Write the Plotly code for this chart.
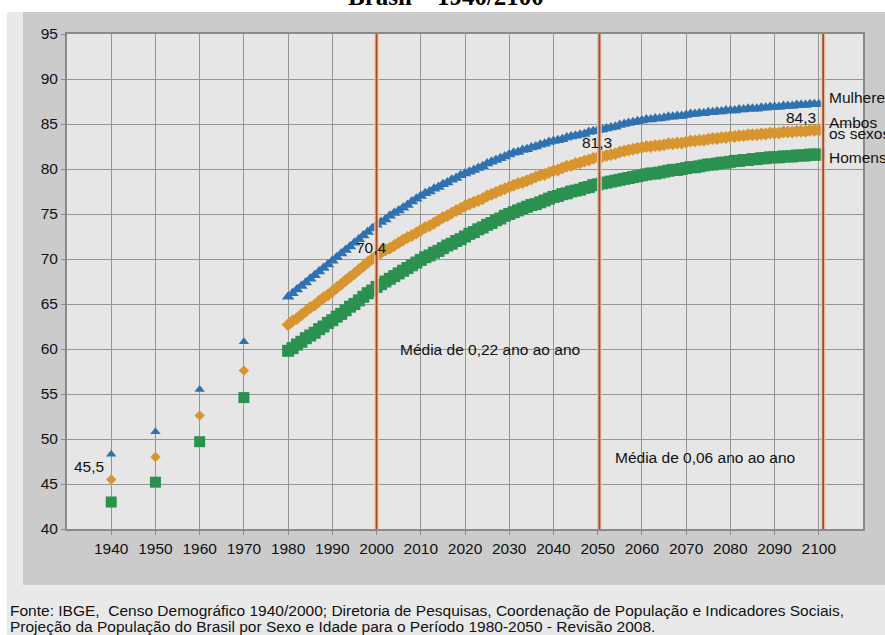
import plotly.graph_objects as go

# ---------------- data ----------------
years_census = [1940, 1950, 1960, 1970]
women_census = [48.3, 50.8, 55.5, 60.8]
both_census = [45.5, 48.0, 52.6, 57.6]
men_census = [43.0, 45.2, 49.7, 54.6]

years_proj = list(range(1980, 2101))
women_proj = [
    65.8, 66.2, 66.6, 67.0, 67.4, 67.8, 68.2, 68.6, 69.0, 69.4,
    69.8, 70.2, 70.6, 71.0, 71.4, 71.8, 72.2, 72.6, 73.0, 73.4,
    73.8, 74.1, 74.4, 74.8, 75.1, 75.4, 75.7, 76.0, 76.4, 76.7,
    77.0, 77.3, 77.5, 77.8, 78.0, 78.3, 78.5, 78.8, 79.0, 79.3,
    79.5, 79.7, 79.9, 80.1, 80.3, 80.6, 80.8, 81.0, 81.2, 81.4,
    81.6, 81.8, 81.9, 82.1, 82.2, 82.4, 82.5, 82.7, 82.8, 83.0,
    83.1, 83.2, 83.3, 83.5, 83.6, 83.7, 83.8, 83.9, 84.1, 84.2,
    84.3, 84.4, 84.5, 84.6, 84.7, 84.9, 85.0, 85.1, 85.2, 85.3,
    85.4, 85.5, 85.5, 85.6, 85.6, 85.7, 85.8, 85.8, 85.9, 85.9,
    86.0, 86.1, 86.1, 86.2, 86.2, 86.3, 86.3, 86.4, 86.4, 86.5,
    86.5, 86.5, 86.6, 86.6, 86.7, 86.7, 86.7, 86.8, 86.8, 86.9,
    86.9, 86.9, 87.0, 87.0, 87.0, 87.1, 87.1, 87.1, 87.2, 87.2,
    87.2,
]
both_proj = [
    62.7, 63.1, 63.4, 63.8, 64.2, 64.6, 64.9, 65.3, 65.7, 66.0,
    66.4, 66.8, 67.2, 67.6, 68.0, 68.4, 68.8, 69.2, 69.6, 70.0,
    70.4, 70.7, 71.0, 71.2, 71.5, 71.8, 72.1, 72.4, 72.6, 72.9,
    73.2, 73.5, 73.7, 74.0, 74.3, 74.6, 74.8, 75.1, 75.4, 75.6,
    75.9, 76.1, 76.3, 76.5, 76.7, 77.0, 77.2, 77.4, 77.6, 77.8,
    78.0, 78.2, 78.4, 78.5, 78.7, 78.9, 79.1, 79.3, 79.4, 79.6,
    79.8, 79.9, 80.1, 80.3, 80.4, 80.6, 80.7, 80.9, 81.0, 81.2,
    81.3, 81.4, 81.5, 81.6, 81.7, 81.9, 82.0, 82.1, 82.2, 82.3,
    82.4, 82.5, 82.5, 82.6, 82.6, 82.7, 82.8, 82.8, 82.9, 82.9,
    83.0, 83.1, 83.1, 83.2, 83.2, 83.3, 83.4, 83.4, 83.5, 83.5,
    83.6, 83.6, 83.7, 83.7, 83.8, 83.8, 83.8, 83.9, 83.9, 84.0,
    84.0, 84.0, 84.1, 84.1, 84.1, 84.2, 84.2, 84.2, 84.3, 84.3,
    84.3,
]
men_proj = [
    59.8, 60.1, 60.5, 60.8, 61.2, 61.5, 61.8, 62.2, 62.5, 62.9,
    63.2, 63.6, 63.9, 64.3, 64.7, 65.0, 65.4, 65.8, 66.2, 66.5,
    66.9, 67.2, 67.5, 67.8, 68.1, 68.4, 68.7, 69.0, 69.3, 69.6,
    69.9, 70.2, 70.4, 70.7, 70.9, 71.2, 71.5, 71.7, 72.0, 72.2,
    72.5, 72.8, 73.0, 73.3, 73.5, 73.8, 74.0, 74.3, 74.5, 74.8,
    75.0, 75.2, 75.4, 75.6, 75.8, 76.0, 76.1, 76.3, 76.5, 76.7,
    76.9, 77.0, 77.2, 77.3, 77.5, 77.6, 77.7, 77.9, 78.0, 78.2,
    78.3, 78.4, 78.5, 78.6, 78.7, 78.8, 78.9, 79.0, 79.1, 79.2,
    79.3, 79.4, 79.5, 79.5, 79.6, 79.7, 79.8, 79.9, 79.9, 80.0,
    80.1, 80.2, 80.2, 80.3, 80.4, 80.5, 80.5, 80.6, 80.7, 80.7,
    80.8, 80.9, 80.9, 81.0, 81.0, 81.1, 81.1, 81.2, 81.2, 81.3,
    81.3, 81.3, 81.4, 81.4, 81.4, 81.5, 81.5, 81.5, 81.6, 81.6,
    81.6,
]

x_ticks = [1940, 1950, 1960, 1970, 1980, 1990, 2000, 2010, 2020, 2030,
           2040, 2050, 2060, 2070, 2080, 2090, 2100]
y_ticks = [40, 45, 50, 55, 60, 65, 70, 75, 80, 85, 90, 95]
period_lines = [2000, 2050.4, 2101]

value_labels = [(1935.0, 47.0, "45,5"), (1998.9, 71.3, "70,4"),
                (2049.8, 82.9, "81,3"), (2096.0, 85.7, "84,3")]
series_labels = [(88.0, "Mulheres"), (85.2, "Ambos"), (83.9, "os sexos"), (81.3, "Homens")]
period_notes = [(2004.8, 60.0, "Média de 0,22 ano ao ano"),
                (2053.4, 48.0, "Média de 0,06 ano ao ano")]
source_lines = [
    "Fonte: IBGE,  Censo Demográfico 1940/2000; Diretoria de Pesquisas, Coordenação de População e Indicadores Sociais,",
    "Projeção da População do Brasil por Sexo e Idade para o Período 1980-2050 - Revisão 2008.",
]
title_text = "Brasil – 1940/2100"

# ---------------- figure ----------------
BLUE = "#2f72b0"
ORANGE = "#d8952f"
GREEN = "#2b9150"
FONT = "Liberation Sans, Arial, sans-serif"
FS = 15.5

fig = go.Figure()

def add_series(xs, ys, color, symbol, size):
    fig.add_trace(go.Scatter(x=xs, y=ys, mode="markers",
                             marker=dict(color=color, symbol=symbol, size=size,
                                         line=dict(width=0)),
                             showlegend=False, hoverinfo="x+y"))

add_series(years_proj, men_proj, GREEN, "square", 12)
add_series(years_proj, both_proj, ORANGE, "diamond", 10)
add_series(years_proj, women_proj, BLUE, "triangle-up", 11)
add_series(years_census, men_census, GREEN, "square", 11)
add_series(years_census, both_census, ORANGE, "diamond", 8)
add_series(years_census, women_census, BLUE, "triangle-up", 9)

L, R, T, B = 67, 22, 34, 106
W, H = 885, 635
pw, ph = W - L - R, H - T - B

def px_x(px):
    return (px - L) / pw

def px_y(py):
    return (H - B - py) / ph

shapes = [
    # light outer frame
    dict(type="rect", xref="paper", yref="paper", x0=px_x(7), x1=px_x(890),
         y0=px_y(640), y1=px_y(12), fillcolor="#e9e9e9", line=dict(width=0), layer="below"),
    # darker panel
    dict(type="rect", xref="paper", yref="paper", x0=px_x(23), x1=px_x(890),
         y0=px_y(585), y1=px_y(12), fillcolor="#cbcbcb", line=dict(width=0), layer="below"),
    # plot area background
    dict(type="rect", xref="paper", yref="paper", x0=0, x1=1, y0=0, y1=1,
         fillcolor="#e6e6e6", line=dict(width=0), layer="below"),
]
for xv in period_lines:
    shapes.append(dict(type="line", xref="x", yref="y", x0=xv, x1=xv, y0=40, y1=95,
                       line=dict(color="rgba(245,205,175,0.8)", width=5), layer="above"))
    shapes.append(dict(type="line", xref="x", yref="y", x0=xv, x1=xv, y0=40, y1=95,
                       line=dict(color="#9f4f2e", width=2), layer="above"))

annotations = [
    dict(text="<b>" + title_text + "</b>", xref="paper", yref="paper",
         x=px_x(446), y=px_y(-3), xanchor="center", yanchor="middle", showarrow=False,
         font=dict(family="Liberation Serif, Times New Roman, serif", size=25, color="#000")),
]
for i, line in enumerate(source_lines):
    annotations.append(dict(text=line, xref="paper", yref="paper", x=px_x(8),
                            y=px_y(610 + 16 * i), xanchor="left", yanchor="middle",
                            align="left", showarrow=False,
                            font=dict(family=FONT, size=FS, color="#111")))
for xv, yv, t in value_labels:
    annotations.append(dict(text=t, x=xv, y=yv, xref="x", yref="y", showarrow=False,
                            xanchor="center", yanchor="middle",
                            font=dict(family=FONT, size=FS, color="#111")))
for yv, t in series_labels:
    annotations.append(dict(text=t, x=2101.8, y=yv, xref="x", yref="y", showarrow=False,
                            xanchor="left", yanchor="middle",
                            font=dict(family=FONT, size=FS, color="#111")))
for xv, yv, t in period_notes:
    annotations.append(dict(text=t, x=xv, y=yv, xref="x", yref="y", showarrow=False,
                            xanchor="left", yanchor="middle",
                            font=dict(family=FONT, size=FS, color="#111")))

fig.update_layout(
    width=W, height=H,
    margin=dict(l=L, r=R, t=T, b=B, pad=0),
    paper_bgcolor="white",
    plot_bgcolor="#e6e6e6",
    shapes=shapes,
    annotations=annotations,
    font=dict(family=FONT, size=FS, color="#111"),
)
fig.update_xaxes(range=[1930, 2110], tickvals=x_ticks, showgrid=True,
                 gridcolor="#959595", gridwidth=1, zeroline=False,
                 showline=True, linecolor="#8a8a8a", linewidth=2, mirror=True,
                 ticks="outside", ticklen=4, tickcolor="#8a8a8a",
                 tickfont=dict(family=FONT, size=FS, color="#111"))
fig.update_yaxes(range=[40, 95], tickvals=y_ticks, showgrid=True,
                 gridcolor="#959595", gridwidth=1, zeroline=False,
                 showline=True, linecolor="#8a8a8a", linewidth=2, mirror=True,
                 ticks="outside", ticklen=4, tickcolor="#8a8a8a",
                 tickfont=dict(family=FONT, size=FS, color="#111"))

fig.write_html("out.html", config={"displayModeBar": False},
               post_script="document.body.style.margin='0';document.body.style.overflow='hidden';")
